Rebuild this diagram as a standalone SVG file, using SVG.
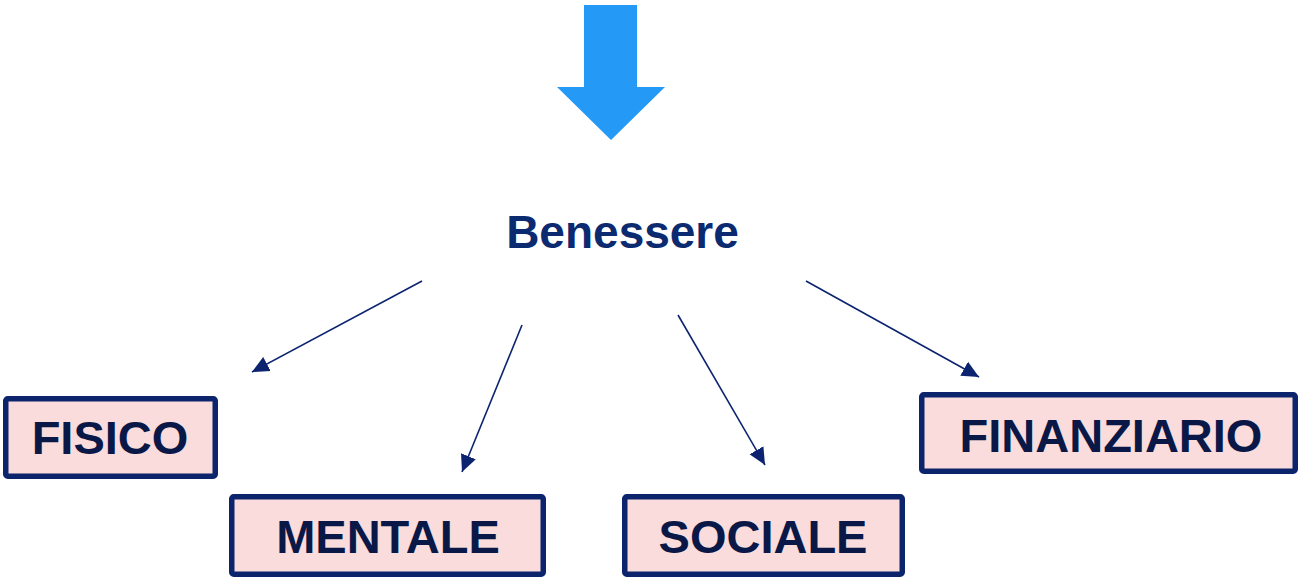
<svg xmlns="http://www.w3.org/2000/svg" width="1299" height="578" viewBox="0 0 1299 578">
  <defs>
    <style>
      .box { fill: #F9DCDB; stroke: #0B246B; stroke-width: 5.5; }
      .lbl { font-family: "Liberation Sans", Arial, sans-serif; font-weight: bold; font-size: 47px; fill: #0A1848; text-anchor: middle; }
      .title { font-family: "Liberation Sans", Arial, sans-serif; font-weight: bold; font-size: 46px; fill: #0B2A70; text-anchor: middle; }
      .conn { stroke: #0C2470; stroke-width: 1.6; fill: none; }
    </style>
    <marker id="ah" markerUnits="userSpaceOnUse" markerWidth="18" markerHeight="18" viewBox="0 0 18 16" refX="17" refY="8" orient="auto">
      <path d="M0,0 L17,8 L0,16 z" fill="#0C2470"/>
    </marker>
  </defs>

  <g id="big-arrow">
    <polygon points="584,5 637,5 637,87 665,87 611,140 557,87 584,87" fill="#2499F5"/>
  </g>

  <g id="benessere">
    <text class="title" x="622.5" y="248">Benessere</text>
  </g>

  <g id="connectors">
    <line class="conn" x1="422" y1="281" x2="252" y2="372" marker-end="url(#ah)"/>
    <line class="conn" x1="522" y1="325" x2="462" y2="472" marker-end="url(#ah)"/>
    <line class="conn" x1="678" y1="315" x2="765" y2="465" marker-end="url(#ah)"/>
    <line class="conn" x1="806" y1="281" x2="979" y2="377" marker-end="url(#ah)"/>
  </g>

  <g id="fisico">
    <rect class="box" x="5.75" y="398.75" width="209.5" height="77.5" rx="2"/>
    <text class="lbl" x="110" y="454">FISICO</text>
  </g>

  <g id="mentale">
    <rect class="box" x="231.75" y="496.75" width="311.5" height="77.5" rx="2"/>
    <text class="lbl" x="388" y="553">MENTALE</text>
  </g>

  <g id="sociale">
    <rect class="box" x="624.75" y="496.75" width="277.5" height="77.5" rx="2"/>
    <text class="lbl" x="763" y="553">SOCIALE</text>
  </g>

  <g id="finanziario">
    <rect class="box" x="921.75" y="394.75" width="373.5" height="76.5" rx="2"/>
    <text class="lbl" x="1111" y="452">FINANZIARIO</text>
  </g>
</svg>
